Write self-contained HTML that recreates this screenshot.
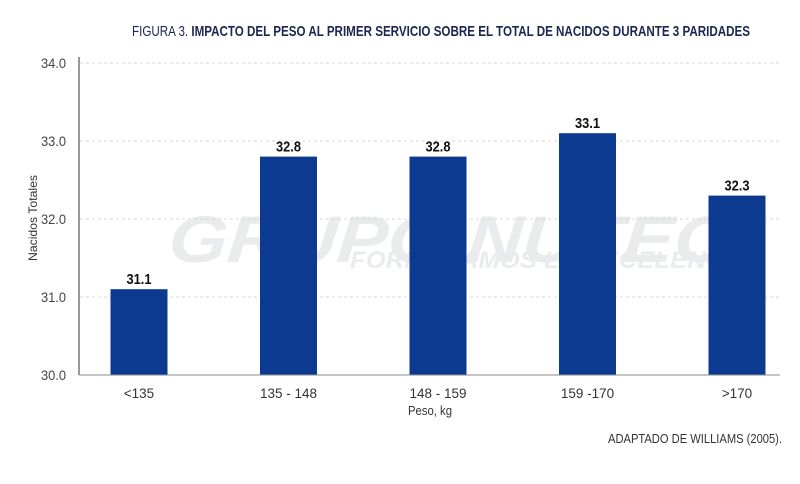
<!DOCTYPE html>
<html><head><meta charset="utf-8"><style>
body{margin:0;background:#fff;width:800px;height:479px;overflow:hidden}
svg text{font-family:"Liberation Sans Narrow","Liberation Sans",sans-serif}
</style></head><body>
<svg id="chart" width="800" height="479" xmlns="http://www.w3.org/2000/svg">
<text x="132" y="36" font-size="15" fill="#1b2652" textLength="618" lengthAdjust="spacingAndGlyphs">FIGURA 3. <tspan font-weight="bold">IMPACTO DEL PESO AL PRIMER SERVICIO SOBRE EL TOTAL DE NACIDOS DURANTE 3 PARIDADES</tspan></text>
<g opacity="0.3">
<text x="190" y="262" font-size="66" font-weight="bold" font-style="italic" fill="#b9bec6" textLength="560" lengthAdjust="spacingAndGlyphs" transform="skewX(-5)">GRUPO NUTEC</text>
<text x="350" y="268" font-size="24" font-weight="bold" font-style="italic" fill="#b9bec6" textLength="400" lengthAdjust="spacingAndGlyphs">FORMULAMOS LA EXCELENCIA</text>
</g>
<g id="grid"></g>
<g id="bars"></g>
<line x1="79" y1="57" x2="79" y2="375" stroke="#555" stroke-width="1.2"/>
<line x1="79" y1="375" x2="780" y2="375" stroke="#888" stroke-width="1"/>
<text transform="translate(37,218) rotate(-90)" text-anchor="middle" font-size="12" fill="#333" textLength="86" lengthAdjust="spacingAndGlyphs">Nacidos Totales</text>
<text x="430" y="415" text-anchor="middle" font-size="13" fill="#333" textLength="44" lengthAdjust="spacingAndGlyphs">Peso, kg</text>
<text x="782" y="443" text-anchor="end" font-size="13" fill="#333" textLength="174" lengthAdjust="spacingAndGlyphs">ADAPTADO DE WILLIAMS (2005).</text>
</svg>
<script>
const categories=["<135","135 - 148","148 - 159","159 -170",">170"];
const values=[31.1,32.8,32.8,33.1,32.3];
const yTicks=[30.0,31.0,32.0,33.0,34.0];
const NS="http://www.w3.org/2000/svg";
const y0=375,pxPerUnit=78,yMin=30;
function yScale(v){return y0-(v-yMin)*pxPerUnit;}
function xCenter(i){return 139+i*149.5;}
const grid=document.getElementById('grid'),bars=document.getElementById('bars');
function mk(tag,attrs,parent,txt){const e=document.createElementNS(NS,tag);for(const k in attrs)e.setAttribute(k,attrs[k]);if(txt!==undefined)e.textContent=txt;parent.appendChild(e);return e;}
yTicks.forEach(t=>{
  const y=yScale(t);
  if(t>yMin){const l=mk('line',{x1:80,x2:780,y1:y,y2:y,stroke:'#d8d8d8','stroke-dasharray':'3,3'},grid);
  
  }
  const tx=mk('text',{x:66,y:y+5,'text-anchor':'end','font-size':14,fill:'#444',textLength:25,lengthAdjust:'spacingAndGlyphs'},grid,t.toFixed(1));
  
  
});
categories.forEach((c,i)=>{
  const cx=xCenter(i),w=57,top=yScale(values[i]);
  const r=mk('rect',{x:cx-w/2,y:top,width:w,height:y0-top,fill:'#0d3a91'},bars);
  
  
  const v=mk('text',{x:cx,y:top-5,'text-anchor':'middle','font-size':15,'font-weight':'bold',fill:'#111',textLength:25,lengthAdjust:'spacingAndGlyphs'},bars,values[i].toFixed(1));
  
  
  const xl=mk('text',{x:cx,y:398,'text-anchor':'middle','font-size':13.5,fill:'#333'},bars,c);
  
  
});
</script>
</body></html>
